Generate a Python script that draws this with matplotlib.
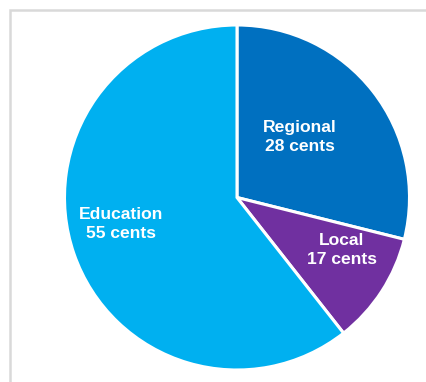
import matplotlib
matplotlib.use("Agg")
from matplotlib import pyplot as plt
from matplotlib.patches import Rectangle

plt.rcParams['font.family'] = ['Liberation Sans', 'DejaVu Sans']

# slice sizes as drawn (labels carry the printed cents)
names = ["Regional", "Local", "Education"]
shares = [28.9, 10.5, 60.6]
cents = [28, 17, 55]
colors = ["#0070C0", "#7030A0", "#00B0F0"]

W, H = 427, 382
fig = plt.figure(figsize=(W / 100, H / 100), dpi=100)

# light gray frame
fig.patches.append(Rectangle((10.5 / W, -0.05), 1.2, (H - 9.5) / H + 0.05,
                             transform=fig.transFigure, fill=False,
                             edgecolor="#d9d9d9", linewidth=1.8))

cx, cy, r = 237, 197.5, 172.5
ax = fig.add_axes([(cx - r) / W, (H - cy - r) / H, 2 * r / W, 2 * r / H])
ax.pie(shares, colors=colors, startangle=90, counterclock=False, radius=1,
       wedgeprops=dict(edgecolor="white", linewidth=2.2))
ax.set_xlim(-1, 1)
ax.set_ylim(-1, 1)
ax.set_aspect("equal")
ax.axis("off")

label_pos = [(300, 137), (342, 250), (121, 224)]
for name, c, (px, py) in zip(names, cents, label_pos):
    ax.text((px - cx) / r, (cy - py) / r, f"{name}\n{c} cents", color="white",
            fontsize=12.6, fontweight="bold", ha="center", va="center",
            linespacing=1.3)

fig.savefig("out.png", dpi=100)
